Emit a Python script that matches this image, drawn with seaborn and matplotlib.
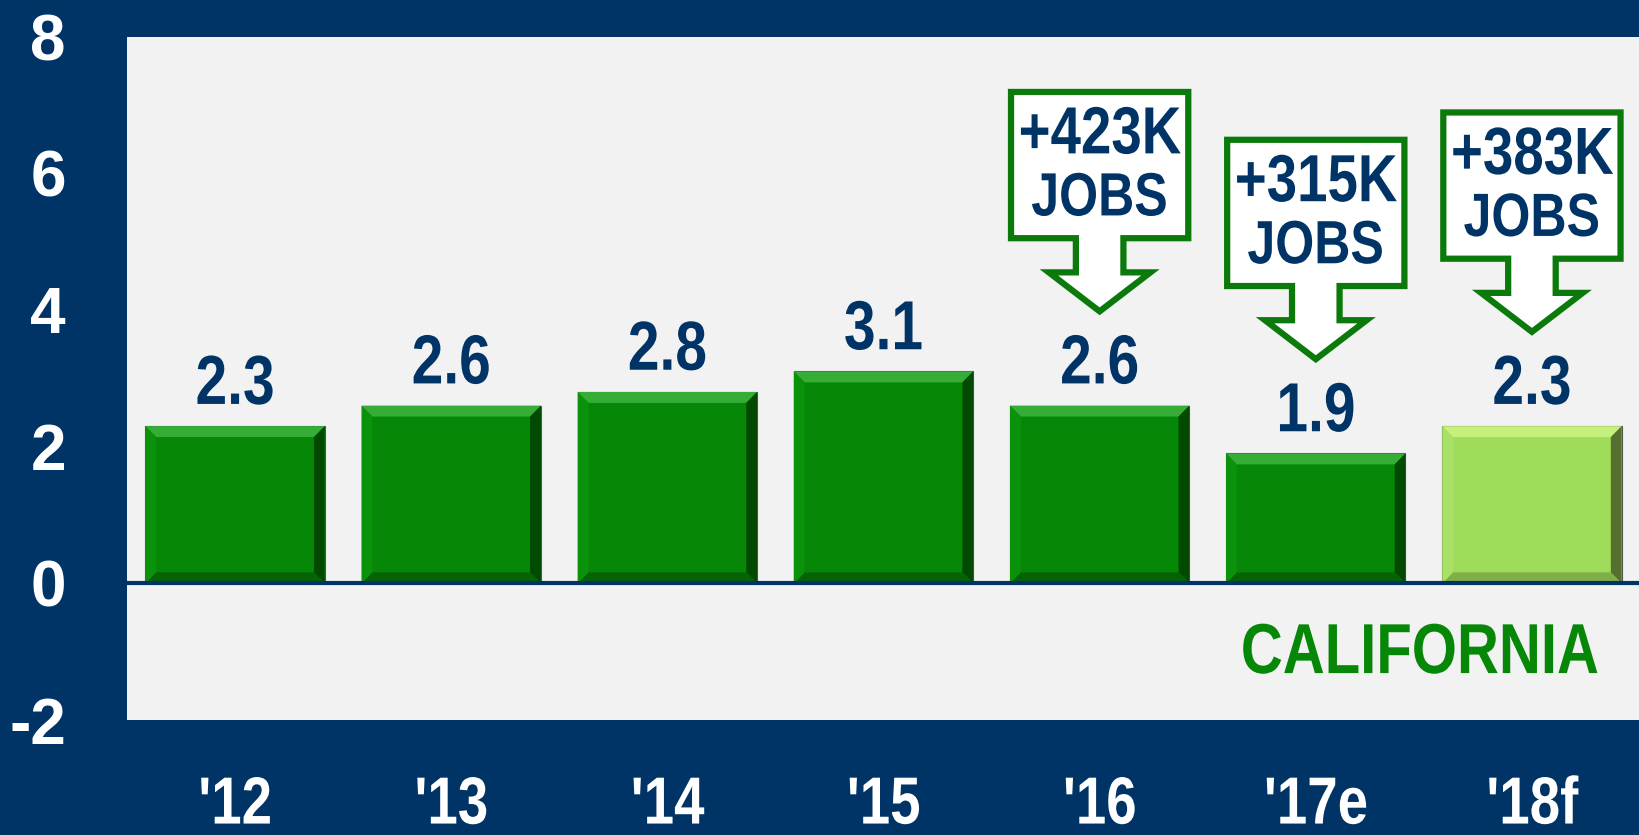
import numpy as np
import matplotlib.pyplot as plt
from matplotlib.patches import Polygon
from matplotlib.patheffects import AbstractPathEffect
from matplotlib.transforms import Affine2D
import seaborn as sns

# data
years = ["'12", "'13", "'14", "'15", "'16", "'17e", "'18f"]
growth = [2.3, 2.6, 2.8, 3.1, 2.6, 1.9, 2.3]
bar_colors = ["#078707"] * 6 + ["#9edc5a"]
callout_bars = [4, 5, 6]
callout_jobs = ["+423K", "+315K", "+383K"]

NAVY = "#003366"
font = ["Liberation Sans", "DejaVu Sans"]


class Condense(AbstractPathEffect):
    """Squeeze glyphs horizontally (no narrow font installed)."""
    def __init__(self, sx=0.82, anchor="center"):
        super().__init__()
        self.sx = sx
        self.anchor = anchor

    def draw_path(self, renderer, gc, tpath, affine, rgbFace=None):
        ext = tpath.get_extents()
        cx = {"center": (ext.x0 + ext.x1) / 2, "right": ext.x1, "left": ext.x0}[self.anchor]
        squeeze = Affine2D().translate(-cx, 0).scale(self.sx, 1).translate(cx, 0)
        renderer.draw_path(gc, tpath, squeeze + affine, rgbFace)


sns.set_style("white")
fig = plt.figure(figsize=(16.4, 8.35), dpi=100, facecolor=NAVY)
ax = fig.add_axes([127 / 1640, 1 - 720 / 835, 1 - 127 / 1640, (720 - 36.6) / 835])
ax.set_facecolor("#f2f2f2")

sns.barplot(x=years, y=growth, hue=years, palette=bar_colors, legend=False,
            width=0.83, saturation=1, edgecolor="#4a5a4a", linewidth=0.8, ax=ax)

# fake bevel on each bar: light top, dark right, darker bottom, lighter left
bx, by = 0.05, 0.16
for p, c in zip(ax.patches, bar_colors):
    x0, w, h = p.get_x(), p.get_width(), p.get_height()
    x1 = x0 + w
    if c == "#9edc5a":
        light, dark, low, side = "#c6f07e", "#55702e", "#7fae4a", "#a9e066"
    else:
        light, dark, low, side = "#36ad36", "#024a02", "#056205", "#0a920a"
    ax.add_patch(Polygon([(x0, h), (x1, h), (x1 - bx, h - by), (x0 + bx, h - by)],
                         closed=True, fc=light, ec="none", zorder=3))
    ax.add_patch(Polygon([(x1, h), (x1, 0), (x1 - bx, by), (x1 - bx, h - by)],
                         closed=True, fc=dark, ec="none", zorder=3))
    ax.add_patch(Polygon([(x0, 0), (x1, 0), (x1 - bx, by), (x0 + bx, by)],
                         closed=True, fc=low, ec="none", zorder=3))
    ax.add_patch(Polygon([(x0, 0), (x0, h), (x0 + bx, h - by), (x0 + bx, by)],
                         closed=True, fc=side, ec="none", zorder=3))

ax.axhline(0, color=NAVY, lw=3, zorder=4)

for i, v in enumerate(growth):
    ax.annotate(f"{v:.1f}", (i, v), xytext=(0, 16), textcoords="offset points",
                ha="center", va="baseline", fontsize=50, fontweight="bold",
                color=NAVY, family=font, zorder=5, path_effects=[Condense()])

# down-arrow callouts with job gains
for i, label in zip(callout_bars, callout_jobs):
    t = growth[i] + 1.38
    hw_box, hw_head, hw_shaft = 0.41, 0.235, 0.11
    pts = [(i, t), (i + hw_head, t + 0.57), (i + hw_shaft, t + 0.57),
           (i + hw_shaft, t + 1.07), (i + hw_box, t + 1.07), (i + hw_box, t + 3.21),
           (i - hw_box, t + 3.21), (i - hw_box, t + 1.07), (i - hw_shaft, t + 1.07),
           (i - hw_shaft, t + 0.57), (i - hw_head, t + 0.57)]
    ax.add_patch(Polygon(pts, closed=True, fc="white", ec="#0b7a0b", lw=4.5,
                         joinstyle="miter", zorder=5))
    ax.text(i, t + 2.56, label, ha="center", va="center", fontsize=48,
            fontweight="bold", color=NAVY, family=font, zorder=6,
            path_effects=[Condense()])
    ax.text(i, t + 1.63, "JOBS", ha="center", va="center", fontsize=44,
            fontweight="bold", color=NAVY, family=font, zorder=6,
            path_effects=[Condense()])

ax.text(0.973, 0.095, "CALIFORNIA", transform=ax.transAxes, ha="right",
        va="center", fontsize=51, fontweight="bold", color="#078707",
        family=font, path_effects=[Condense(anchor="right")])

ax.set_xlim(-0.5, 6.5)
ax.set_ylim(-2, 8)
ax.set_yticks(range(-2, 9, 2))
ax.set_yticklabels([str(v) for v in range(-2, 9, 2)], fontsize=46,
                   fontweight="bold", color="white", family=font)
ax.set_xticks(range(len(years)))
ax.set_xticklabels(years, fontsize=48, fontweight="bold", color="white",
                   family=font)
for lab in ax.get_xticklabels():
    lab.set_path_effects([Condense()])
ax.tick_params(axis="y", length=0, pad=44)
ax.tick_params(axis="x", length=0, pad=40)
ax.set_xlabel("")
ax.set_ylabel("")
for s in ax.spines.values():
    s.set_visible(False)

fig.savefig("out.png", dpi=100, facecolor=NAVY)
